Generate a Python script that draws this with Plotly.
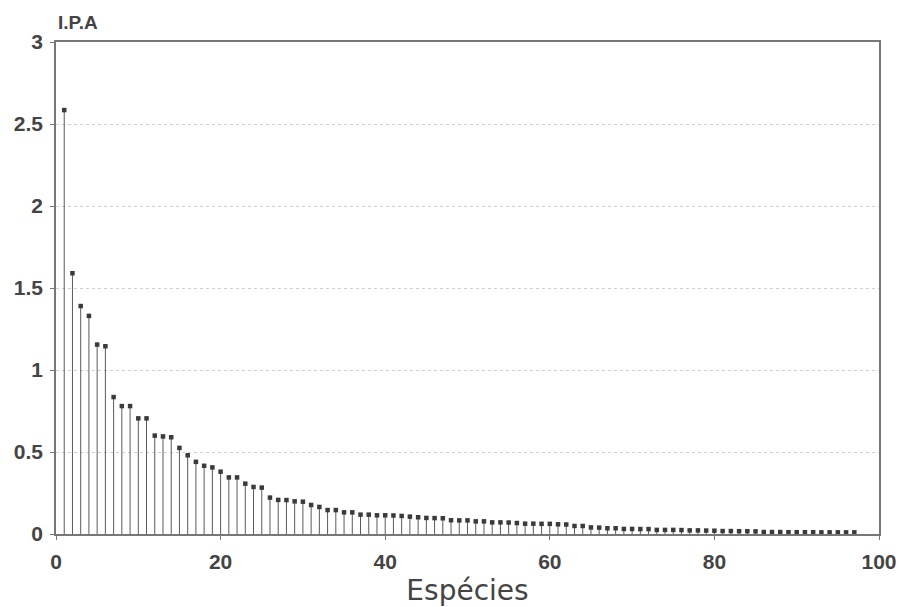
import plotly.graph_objects as go

species = list(range(1, 98))
ipa = [
    2.585, 1.59, 1.39, 1.33, 1.155, 1.145, 0.835, 0.78, 0.78, 0.705,
    0.705, 0.60, 0.595, 0.59, 0.525, 0.48, 0.44, 0.416, 0.406, 0.38,
    0.345, 0.345, 0.307, 0.287, 0.283, 0.222, 0.208, 0.207, 0.199, 0.197,
    0.177, 0.165, 0.146, 0.146, 0.132, 0.132, 0.118, 0.118, 0.114, 0.114,
    0.113, 0.110, 0.106, 0.102, 0.098, 0.097, 0.096, 0.084, 0.083, 0.083,
    0.077, 0.077, 0.071, 0.071, 0.070, 0.067, 0.063, 0.063, 0.062, 0.062,
    0.059, 0.058, 0.049, 0.049, 0.040, 0.039, 0.035, 0.035, 0.031, 0.031,
    0.030, 0.030, 0.025, 0.025, 0.025, 0.024, 0.022, 0.022, 0.021, 0.020,
    0.018, 0.018, 0.017, 0.017, 0.016, 0.012, 0.012, 0.012, 0.011, 0.011,
    0.011, 0.011, 0.010, 0.010, 0.010, 0.010, 0.010,
]
x_ticks = [0, 20, 40, 60, 80, 100]
y_ticks = [0, 0.5, 1, 1.5, 2, 2.5, 3]
y_tick_text = ["0", "0.5", "1", "1.5", "2", "2.5", "3"]

ink = "#3a3a3a"
label_color = "#444444"
font_family = "Liberation Sans, Arial, sans-serif"

fig = go.Figure()
fig.add_trace(go.Scatter(
    x=species, y=ipa, mode="markers",
    marker=dict(symbol="square", size=4.5, color=ink),
    error_y=dict(type="data", symmetric=False, array=[0] * len(ipa),
                 arrayminus=ipa, width=0, thickness=1, color="#5a5a5a"),
    showlegend=False, hoverinfo="skip",
))

fig.update_layout(
    width=903, height=607,
    margin=dict(l=56, r=24, t=42, b=73, autoexpand=False),
    paper_bgcolor="white", plot_bgcolor="white",
    font=dict(family=font_family, color=ink),
    xaxis=dict(
        range=[0, 100], tickvals=x_ticks, ticks="outside", ticklen=4,
        tickcolor="#777", showgrid=False, zeroline=False,
        showline=True, linecolor="#777", linewidth=1.5, mirror=True,
        automargin=False, ticklabelstandoff=4,
        tickfont=dict(size=21, weight="bold", color=label_color),
        title=dict(text="Espécies",
                   font=dict(size=28, family="DejaVu Sans, sans-serif", color=label_color),
                   standoff=15),
    ),
    yaxis=dict(
        range=[0, 3], tickvals=y_ticks, ticktext=y_tick_text,
        ticks="outside", ticklen=4, tickcolor="#777",
        showgrid=True, gridcolor="#cfcfcf", griddash="dot", gridwidth=1,
        zeroline=False, showline=True, linecolor="#777", linewidth=1.5,
        mirror=True, automargin=False, ticklabelstandoff=3,
        tickfont=dict(size=21, weight="bold", color=label_color),
    ),
    annotations=[dict(
        text="I.P.A", xref="paper", yref="paper", x=0, y=1,
        xanchor="left", yanchor="bottom", yshift=7, showarrow=False,
        font=dict(size=19, weight="bold", color=label_color),
    )],
)

fig.write_html("out.html", config={"displayModeBar": False},
               post_script="document.body.style.margin='0';document.body.style.overflow='hidden';")
